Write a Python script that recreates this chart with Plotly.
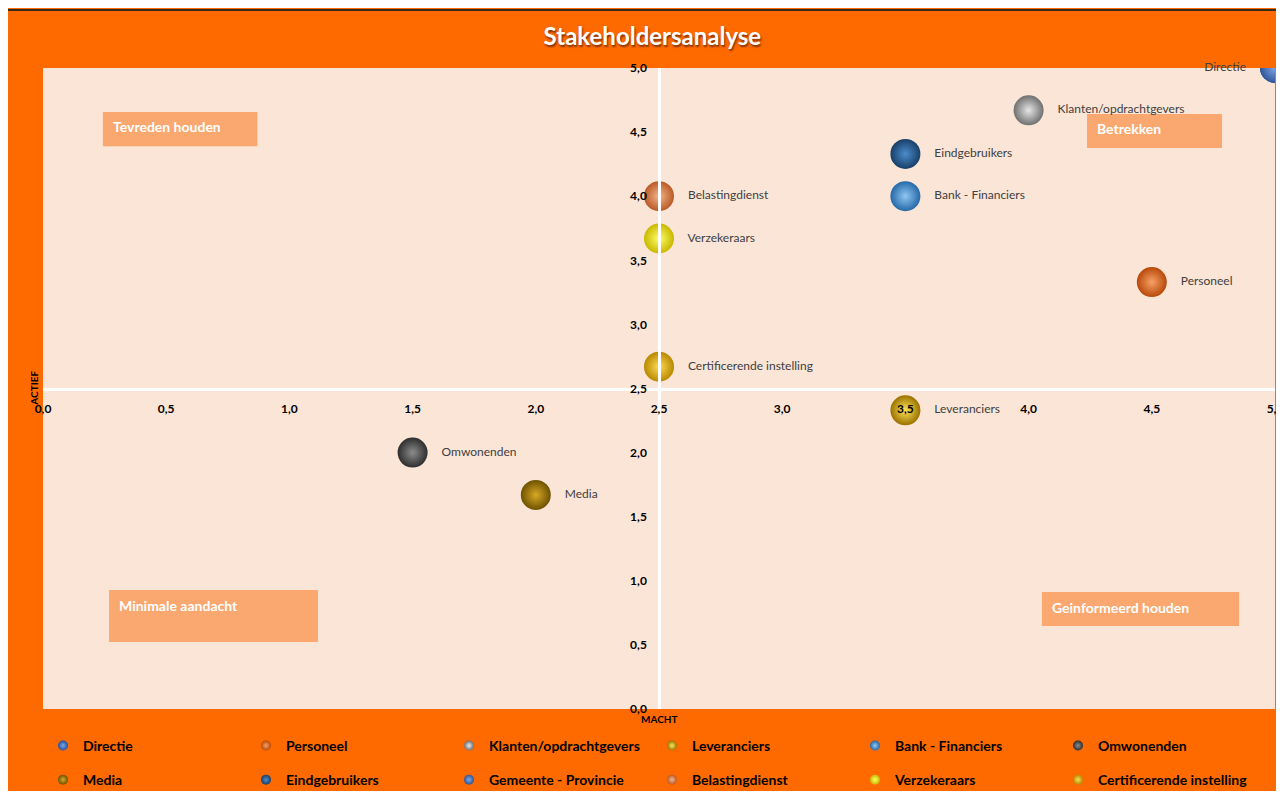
import plotly.graph_objects as go

# ---------------- data ----------------
stakeholders = ["Directie", "Personeel", "Klanten/opdrachtgevers", "Leveranciers",
                "Bank - Financiers", "Omwonenden", "Media", "Eindgebruikers",
                "Gemeente - Provincie", "Belastingdienst", "Verzekeraars",
                "Certificerende instelling"]
macht = [5.0, 4.5, 4.0, 3.5, 3.5, 1.5, 2.0, 3.5, 5.0, 2.5, 2.5, 2.5]
actief = [5.0, 3.33, 4.67, 2.33, 4.0, 2.0, 1.67, 4.33, 5.0, 4.0, 3.67, 2.67]
point_labels = ["Directie", "Personeel", "Klanten/opdrachtgevers", "Leveranciers",
                "Bank - Financiers", "Omwonenden", "Media", "Eindgebruikers",
                "", "Belastingdienst", "Verzekeraars", "Certificerende instelling"]
tick_values = [0, 0.5, 1, 1.5, 2, 2.5, 3, 3.5, 4, 4.5, 5]
quadrants = ["Tevreden houden", "Betrekken", "Minimale aandacht", "Geinformeerd houden"]

# ---------------- styles ----------------
edge_colors = ["#254F9A", "#B8480A", "#707070", "#9A7200", "#2569A8", "#2E2E2E",
               "#6E5200", "#173F68", "#2F5597", "#B85A26", "#C8B800", "#B88800"]
center_colors = ["#7AA6E8", "#F7A266", "#E6E6E6", "#FFE45A", "#90C6F2", "#8C8C8C",
                 "#D8A826", "#4C8CCB", "#7FA8E8", "#F6B48A", "#FFFF66", "#FFDC55"]
label_pos = ["middle left"] + ["middle right"] * 11

ORANGE = "#FF6A00"
PLOTBG = "#FBE5D6"
BOX = "#FAA86F"
FONT = "Lato"

fig = go.Figure()

for i, name in enumerate(stakeholders):
    # data point (clipped at the plot edge like the reference)
    fig.add_trace(go.Scatter(
        x=[macht[i]], y=[actief[i]], mode="markers",
        marker=dict(size=30, color=edge_colors[i],
                    gradient=dict(type="radial", color=center_colors[i]),
                    line=dict(width=0)),
        showlegend=False, name=name, hoverinfo="name"))
    # legend entry
    fig.add_trace(go.Scatter(
        x=[None], y=[None], mode="markers", name=name,
        marker=dict(size=10, color=edge_colors[i],
                    gradient=dict(type="radial", color=center_colors[i])),
        legend="legend" if i < 6 else "legend2", showlegend=True))

# data labels (not clipped)
fig.add_trace(go.Scatter(
    x=macht, y=actief, mode="markers+text",
    text=["   " + t + "   " if t else "" for t in point_labels],
    textposition=label_pos, cliponaxis=False,
    textfont=dict(family=FONT, size=12, color="#404040"),
    marker=dict(size=30, color="rgba(0,0,0,0)"),
    showlegend=False, hoverinfo="skip"))

# quadrant boxes (data coordinates)
boxes = [(0.243, 0.87, 4.39, 4.657), (4.237, 4.785, 4.376, 4.641),
         (0.268, 1.116, 0.523, 0.928), (4.054, 4.854, 0.647, 0.913)]
text_y = [4.54, 4.525, 0.805, 0.795]
for (x0, x1, y0, y1), ty, q in zip(boxes, text_y, quadrants):
    fig.add_shape(type="rect", x0=x0, x1=x1, y0=y0, y1=y1, xref="x", yref="y",
                  fillcolor=BOX, line=dict(width=0), layer="below")
    fig.add_annotation(x=x0, y=ty, xref="x", yref="y", text=q, showarrow=False,
                       xanchor="left", yanchor="middle", xshift=8,
                       font=dict(family=FONT, size=14, color="white", weight="bold"))

# thin dark border along the top of the chart
fig.add_shape(type="line", xref="paper", yref="paper", x0=-0.03, x1=1.01,
              y0=1.0905, y1=1.0905, line=dict(color="#3A2A1A", width=2))

# axis titles
fig.add_annotation(x=0.5, y=-0.016, xref="paper", yref="paper", text="MACHT",
                   showarrow=False, xanchor="center", yanchor="middle",
                   font=dict(family=FONT, size=10, color="black", weight="bold"))
fig.add_annotation(x=-0.008, y=0.5, xref="paper", yref="paper", text="ACTIEF",
                   showarrow=False, textangle=-90, xanchor="center", yanchor="middle",
                   font=dict(family=FONT, size=10, color="black", weight="bold"))

axis_common = dict(range=[0, 5], tickvals=tick_values, tickformat=".1f",
                   showgrid=False, zeroline=False, showline=True, linecolor="white",
                   linewidth=2.5, ticks="", anchor="free", position=0.5,
                   ticklabeloverflow="allow", automargin=False,
                   tickfont=dict(family=FONT, size=12, color="black", weight="bold"))

legend_common = dict(orientation="h", x=0.0, xanchor="left", yanchor="middle",
                     yref="container", entrywidth=158, entrywidthmode="pixels",
                     itemwidth=30, bgcolor="rgba(0,0,0,0)", itemsizing="trace",
                     font=dict(family=FONT, size=14, color="black", weight="bold"))

fig.update_layout(
    width=1276, height=783,
    margin=dict(l=35, r=9, t=60, b=82, autoexpand=False),
    paper_bgcolor=ORANGE, plot_bgcolor=PLOTBG,
    separators=", ",
    title=dict(text="Stakeholdersanalyse", x=0.505, xanchor="center", y=0.963, yanchor="middle",
               font=dict(family=FONT, size=24, color="white", weight="bold",
                         shadow="1px 2px 2px #803000")),
    xaxis=dict(**axis_common, ticklabelstandoff=8),
    yaxis=dict(**axis_common, ticklabelstandoff=9),
    legend=dict(**legend_common, y=0.0575),
    legend2=dict(**legend_common, y=0.014),
)

fig.write_html("out.html")
